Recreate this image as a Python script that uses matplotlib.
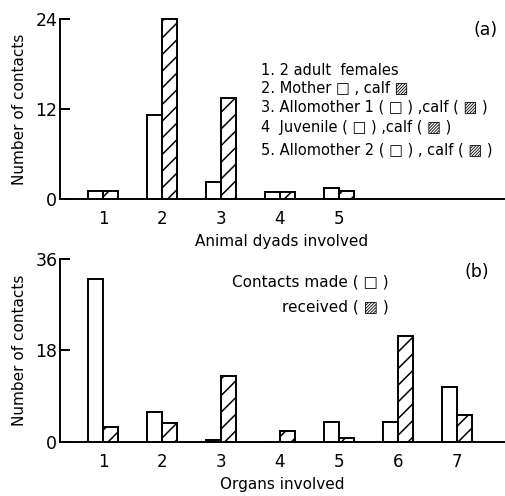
import numpy as np
import matplotlib
matplotlib.use('Agg')
import matplotlib.pyplot as plt

plt.rcParams['font.family'] = ['DejaVu Sans']
plt.rcParams['hatch.linewidth'] = 1.1

# (a) animal dyads
dyads = ['1', '2', '3', '4', '5']
made_a = [1.0, 11.2, 2.3, 0.9, 1.5]
recv_a = [1.0, 24.0, 13.4, 0.9, 1.1]
legend_a = ['1. 2 adult  females',
            '2. Mother \u25a1 , calf \u25a8',
            '3. Allomother 1 ( \u25a1 ) ,calf ( \u25a8 )',
            '4  Juvenile ( \u25a1 ) ,calf ( \u25a8 )',
            '5. Allomother 2 ( \u25a1 ) , calf ( \u25a8 )']

# (b) organs
organs = ['1', '2', '3', '4', '5', '6', '7']
made_b = [32.1, 5.9, 0.4, 0.0, 4.0, 4.0, 10.9]
recv_b = [3.0, 3.8, 13.0, 2.1, 0.7, 20.9, 5.3]

W = 0.255

fig = plt.figure(figsize=(5.05, 4.96), dpi=100)
ax1 = fig.add_axes([0.119, 0.599, 0.879, 0.363])
ax2 = fig.add_axes([0.119, 0.109, 0.879, 0.369])

def draw(ax, labels, made, recv, ymax, xlabel):
    x = np.arange(1, len(labels) + 1)
    ax.bar(x, made, width=-W, align='edge', facecolor='white',
           edgecolor='black', linewidth=1.4, clip_on=False)
    ax.bar(x, recv, width=W, align='edge', facecolor='white',
           edgecolor='black', linewidth=1.4, hatch='//', clip_on=False)
    ax.set_xlim(0.27, 7.8)
    ax.set_ylim(0, ymax)
    ax.set_yticks([0, ymax / 2, ymax])
    ax.set_yticklabels(['0', '%d' % (ymax / 2), '%d' % ymax])
    ax.set_xticks(x)
    ax.set_xticklabels(labels)
    ax.spines['top'].set_visible(False)
    ax.spines['right'].set_visible(False)
    ax.spines['left'].set_linewidth(1.4)
    ax.spines['bottom'].set_linewidth(1.4)
    ax.tick_params(axis='y', direction='in', length=7, width=1.4, pad=2,
                   labelsize=12.5)
    ax.tick_params(axis='x', length=0, pad=8, labelsize=12)
    ax.set_ylabel('Number of contacts', fontsize=11, labelpad=6)
    ax.set_xlabel(xlabel, fontsize=11, labelpad=4)

draw(ax1, dyads, made_a, recv_a, 24, 'Animal dyads involved')
draw(ax2, organs, made_b, recv_b, 36, 'Organs involved')

fig.text(0.985, 0.94, '(a)', fontsize=12.5, ha='right', va='center')
ys = [0.858, 0.822, 0.785, 0.743, 0.698]
for y, t in zip(ys, legend_a):
    fig.text(0.516, y, t, fontsize=10.5, ha='left', va='center')

fig.text(0.968, 0.452, '(b)', fontsize=12.5, ha='right', va='center')
fig.text(0.77, 0.432, 'Contacts made ( \u25a1 )', fontsize=11, ha='right', va='center')
fig.text(0.77, 0.381, 'received ( \u25a8 )', fontsize=11, ha='right', va='center')

fig.savefig('out.png', dpi=100)
